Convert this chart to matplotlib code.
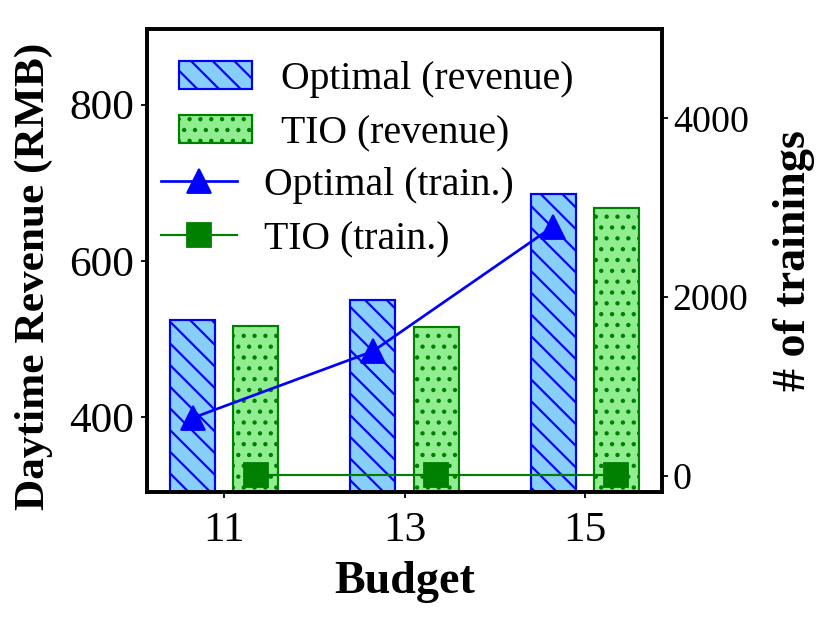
import matplotlib
matplotlib.use('Agg')
import matplotlib.pyplot as plt
import numpy as np

budgets = ['11', '13', '15']
optimal_revenue = [524, 550, 686]
tio_revenue = [516, 515, 668]
optimal_train = [650, 1395, 2790]
tio_train = [5, 5, 5]

plt.rcParams['font.family'] = ['Liberation Serif', 'DejaVu Serif']
plt.rcParams['hatch.linewidth'] = 1.2

DPI = 130
W, H = 830, 623
fig = plt.figure(figsize=(W / DPI, H / DPI), dpi=DPI)
ax = fig.add_axes([147 / W, 1 - 492 / H, (662 - 147) / W, (492 - 29) / H])

x = np.arange(len(budgets))
w = 0.25
off = 0.175
b1 = ax.bar(x - off, optimal_revenue, w, color='lightskyblue', edgecolor='blue',
            hatch='\\\\', linewidth=1.2, label='Optimal (revenue)')
b2 = ax.bar(x + off, tio_revenue, w, color='lightgreen', edgecolor='green',
            hatch='..', linewidth=1.2, label='TIO (revenue)')
ax.set_ylim(304, 897)
ax.set_yticks([400, 600, 800])
ax.set_xticks(x)
ax.set_xticklabels(budgets)

ax2 = ax.twinx()
l1, = ax2.plot(x - off, optimal_train, color='blue', marker='^', ms=13, lw=1.5,
               label='Optimal (train.)')
l2, = ax2.plot(x + off, tio_train, color='green', marker='s', ms=13, lw=1.2,
               label='TIO (train.)')
ax2.set_ylim(-180, 5000)
ax2.set_yticks([0, 2000, 4000])

for a in (ax, ax2):
    for s in a.spines.values():
        s.set_linewidth(2.0)
ax.tick_params(axis='y', labelsize=24, length=3.5, width=1.0)
ax.tick_params(axis='x', labelsize=24, length=3.5, width=1.0, pad=7.5)
ax2.tick_params(axis='y', labelsize=21, length=3.5, width=1.0, pad=2.5)

ax.set_ylabel('Daytime Revenue (RMB)', fontsize=24, fontweight='bold')
ax.yaxis.set_label_coords(-0.183, 0.465)
ax2.set_ylabel('# of trainings', fontsize=25.5, fontweight='bold')
ax2.yaxis.set_label_coords(1.215, 0.5)
ax.set_xlabel('Budget', fontsize=25.5, fontweight='bold')
ax.xaxis.set_label_coords(0.5, -0.148)

FS = 22
F = FS * DPI / 72.0
leg1 = ax2.legend(handles=[b1, b2], loc='upper left', frameon=False, fontsize=FS,
                  bbox_to_anchor=(179 / W, 1 - 61 / H), bbox_transform=fig.transFigure,
                  borderpad=0, borderaxespad=0, handlelength=73 / F,
                  handleheight=28 / F, handletextpad=29 / F, labelspacing=0.43)
ax2.add_artist(leg1)
leg2 = ax2.legend(handles=[l1, l2], loc='upper left', frameon=False, fontsize=FS,
                  bbox_to_anchor=(161 / W, 1 - 167 / H), bbox_transform=fig.transFigure,
                  borderpad=0, borderaxespad=0, handlelength=76 / F,
                  handletextpad=27 / F, labelspacing=0.43)

fig.savefig('out.png', dpi=DPI)
